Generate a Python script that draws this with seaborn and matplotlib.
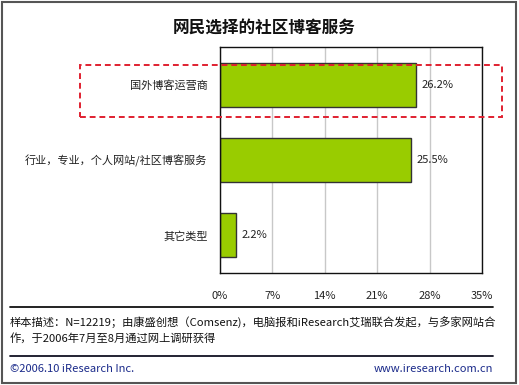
import matplotlib
matplotlib.use("Agg")
import matplotlib.pyplot as plt
import matplotlib.patches as mpatches
import matplotlib.lines as mlines
import seaborn as sns
import pandas as pd

categories = ["国外博客运营商", "行业，专业，个人网站/社区博客服务", "其它类型"]
values = [26.2, 25.5, 2.2]
xticks = [0, 7, 14, 21, 28, 35]
xtick_labels = ["0%", "7%", "14%", "21%", "28%", "35%"]
title = "网民选择的社区博客服务"
note_lines = ["样本描述：N=12219；由康盛创想（Comsenz)，电脑报和iResearch艾瑞联合发起，与多家网站合",
              "作，于2006年7月至8月通过网上调研获得"]
footer_left = "©2006.10 iResearch Inc."
footer_right = "www.iresearch.com.cn"

sns.set_theme(style="white")
plt.rcParams['font.family'] = ['Noto Sans CJK SC', 'DejaVu Sans']

W, H = 519, 385
fig = plt.figure(figsize=(W / 100, H / 100), dpi=100)
fig.patch.set_facecolor("white")

def fx(px):
    return px / W

def fy(py):
    return 1 - py / H

ax = fig.add_axes([fx(220), fy(273), fx(482) - fx(220), fy(47) - fy(273)])
df = pd.DataFrame({"cat": categories, "val": values})
sns.barplot(data=df, x="val", y="cat", orient="h", color="#99CC00",
            edgecolor="#333333", linewidth=1.0, width=0.58, ax=ax, saturation=1)
ax.set_xlim(0, 35)
ax.set_ylim(2.5, -0.5)
ax.set_xticks(xticks)
ax.set_xticklabels(xtick_labels, fontsize=8, color="#222222")
ax.tick_params(axis="x", length=0, pad=13)
ax.tick_params(axis="y", length=0, pad=9, labelsize=8, labelcolor="#222222")
ax.set_xlabel("")
ax.set_ylabel("")
ax.set_axisbelow(True)
ax.xaxis.grid(True, color="#C8C8C8", linewidth=1.0)
ax.yaxis.grid(False)
for s in ax.spines.values():
    s.set_visible(True)
    s.set_color("#111111")
    s.set_linewidth(1.0)

for c in ax.containers:
    ax.bar_label(c, labels=[f"{v}%" for v in values], padding=4, fontsize=8, color="#222222")

# title
fig.text(fx(264), fy(28), title, ha="center", va="center", fontsize=12, fontweight="bold", color="#111111")

# red dashed highlight box
rect = mpatches.Rectangle((fx(80), fy(117)), fx(502) - fx(80), fy(65) - fy(117),
                          transform=fig.transFigure, fill=False, edgecolor="#E02030",
                          linestyle=(0, (3, 2)), linewidth=1.4, zorder=10)
fig.add_artist(rect)

# separator lines
fig.add_artist(mlines.Line2D([fx(10), fx(493)], [fy(307), fy(307)], transform=fig.transFigure,
                             color="#111111", linewidth=1.3))
fig.add_artist(mlines.Line2D([fx(10), fx(493)], [fy(356), fy(356)], transform=fig.transFigure,
                             color="#111122", linewidth=1.3))

# notes
fig.text(fx(10), fy(322), note_lines[0], ha="left", va="center", fontsize=8.1, color="#111111")
fig.text(fx(10), fy(338), note_lines[1], ha="left", va="center", fontsize=8.1, color="#111111")

# footer
fig.text(fx(10), fy(369), footer_left, ha="left", va="center", fontsize=8, color="#1A2A8A")
fig.text(fx(493), fy(369), footer_right, ha="right", va="center", fontsize=8, color="#1A2A8A")

# outer border
border = mpatches.Rectangle((fx(1.5), fy(383)), fx(516) - fx(1.5), fy(1.5) - fy(383),
                            transform=fig.transFigure, fill=False, edgecolor="#555555", linewidth=1.5)
fig.add_artist(border)

fig.savefig("out.png", dpi=100, facecolor="white")
